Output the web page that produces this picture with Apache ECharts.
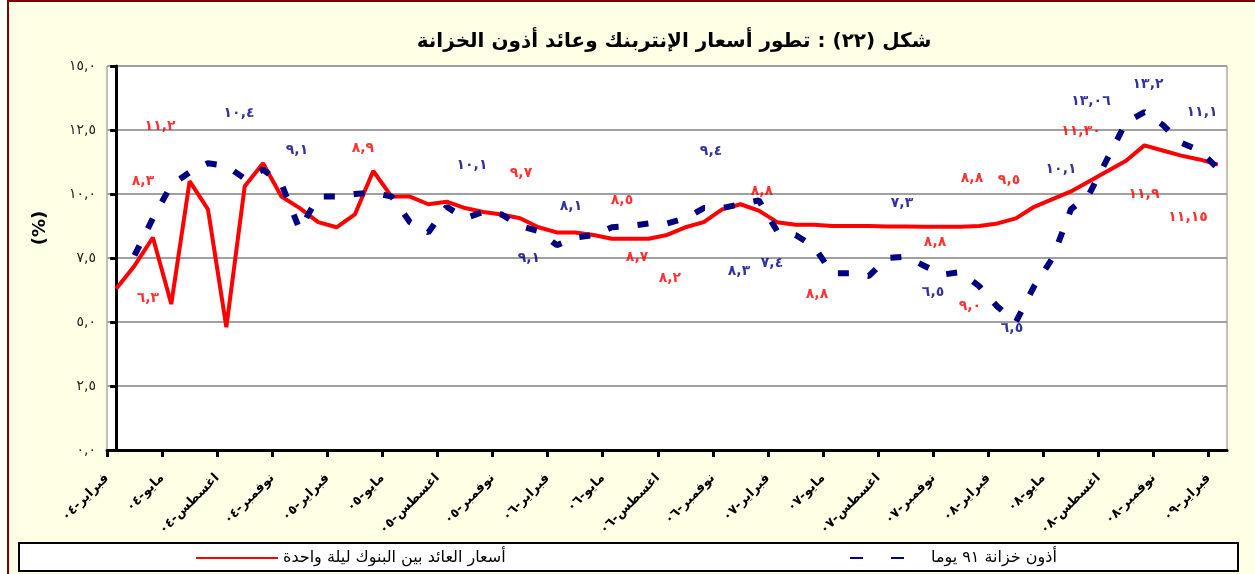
<!DOCTYPE html>
<html>
<head>
<meta charset="utf-8">
<script src="https://cdn.jsdelivr.net/npm/echarts@6/dist/echarts.min.js"></script>
<style>
  html, body { margin: 0; padding: 0; background: #ffffff; }
  #chart { width: 1255px; height: 574px; }
</style>
</head>
<body>
<div id="chart"></div>
<script>
// month names and years used for the x axis labels
const monthNames = ['يناير', 'فبراير', 'مارس', 'ابريل', 'مايو', 'يونيو', 'يوليو', 'اغسطس', 'سبتمبر', 'اكتوبر', 'نوفمبر', 'ديسمبر'];
const yearLabels = ['٠٤', '٠٥', '٠٦', '٠٧', '٠٨', '٠٩'];

// interbank overnight rate, Feb-04 .. Feb-09 (monthly)
const interbank = [
  6.3, 7.2, 8.3, 5.7, 10.5, 9.4, 4.8, 10.3, 11.2, 9.9,
  9.45, 8.9, 8.7, 9.2, 10.9, 9.9, 9.9, 9.6, 9.7, 9.45,
  9.3, 9.2, 9.05, 8.7, 8.5, 8.5, 8.4, 8.25, 8.25, 8.25,
  8.4, 8.7, 8.9, 9.4, 9.6, 9.35, 8.9, 8.8, 8.8, 8.75,
  8.75, 8.75, 8.73, 8.73, 8.72, 8.72, 8.72, 8.75, 8.85, 9.05,
  9.5, 9.8, 10.1, 10.5, 10.9, 11.3, 11.9, 11.7, 11.5, 11.35,
  11.15
];

// 91-day treasury bills yield (no value for the first month)
const tbills = [
  null, 7.6, 9.05, 10.35, 10.85, 11.2, 11.1, 10.6, 10.95, 10.4,
  8.6, 9.9, 9.9, 10.0, 10.05, 9.9, 8.9, 8.5, 9.5, 9.05,
  9.3, 9.2, 8.75, 8.55, 8.0, 8.3, 8.4, 8.7, 8.75, 8.85,
  8.85, 9.05, 9.45, 9.45, 9.6, 9.75, 8.55, 8.4, 7.95, 6.9,
  6.9, 6.8, 7.5, 7.55, 7.2, 6.85, 6.95, 6.4, 5.6, 5.0,
  6.4, 7.5, 9.4, 10.0, 11.4, 12.8, 13.2, 12.7, 12.0, 11.7,
  11.0
];

// annotation texts: [month index, value, text]
const redNotes = [
  [2.39, 12.66, '١١,٢'], [1.46, 10.51, '٨,٣'], [1.73, 5.94, '٦,٣'],
  [13.44, 11.8, '٨,٩'], [22.05, 10.82, '٩,٧'], [27.55, 9.77, '٨,٥'],
  [28.37, 7.54, '٨,٧'], [30.16, 6.72, '٨,٢'], [35.17, 10.12, '٨,٨'],
  [38.17, 6.09, '٨,٨'], [44.6, 8.13, '٨,٨'], [46.5, 5.63, '٩,٠'],
  [46.61, 10.63, '٨,٨'], [48.63, 10.55, '٩,٥'], [52.55, 12.46, '١١,٣٠'],
  [55.98, 10.0, '١١,٩'], [58.38, 9.1, '١١,١٥']
];
const navyNotes = [
  [6.69, 13.16, '١٠,٤'], [9.85, 11.72, '٩,١'], [19.38, 11.13, '١٠,١'],
  [24.77, 9.53, '٨,١'], [22.48, 7.5, '٩,١'], [32.4, 11.68, '٩,٤'],
  [33.92, 6.99, '٨,٣'], [35.72, 7.3, '٧,٤'], [42.8, 9.65, '٧,٣'],
  [44.49, 6.17, '٦,٥'], [48.79, 4.77, '٦,٥'], [51.46, 10.98, '١٠,١'],
  [53.09, 13.63, '١٣,٠٦'], [56.2, 14.3, '١٣,٢'], [59.14, 13.2, '١١,١']
];

const redName = 'أسعار العائد بين البنوك ليلة واحدة';
const navyName = 'أذون خزانة ٩١ يوما';

const categories = [];
for (let i = 0; i < interbank.length; i++) {
  const m = (1 + i) % 12;
  const y = Math.floor((1 + i) / 12);
  categories.push(monthNames[m] + '-' + yearLabels[y]);
}

const toArabic = s => String(s).replace(/[0-9]/g, d => '٠١٢٣٤٥٦٧٨٩'[d]);

const tickVals = [];
for (let i = 0; i * 3 < interbank.length; i++) tickVals.push(i * 3 - 0.5);

const FONT = 'DejaVu Sans';

const chart = echarts.init(document.getElementById('chart'));

const option = {
  animation: false,
  graphic: [
    {
      type: 'rect', z: -10,
      shape: { x: 8, y: 1, width: 1300, height: 600 },
      style: { fill: '#FFFFE6', stroke: '#800000', lineWidth: 2 }
    },
    {
      type: 'rect', z: -5,
      shape: { x: 19, y: 543, width: 1219, height: 28 },
      style: { fill: '#ffffff', stroke: '#000000', lineWidth: 2 }
    },
    {
      type: 'text', x: 674, y: 42,
      style: {
        text: 'شكل (٢٢) : تطور أسعار الإنتربنك وعائد أذون الخزانة',
        font: 'bold 20px ' + FONT, fill: '#000', align: 'center', verticalAlign: 'middle'
      }
    },
    {
      type: 'text', x: 40, y: 228, rotation: Math.PI / 2,
      style: {
        text: '(%)', font: 'bold 18px ' + FONT, fill: '#000', align: 'center', verticalAlign: 'middle'
      }
    }
  ],
  legend: [
    {
      data: [redName], left: 195, top: 550, padding: 0,
      itemWidth: 82, itemHeight: 14,
      itemStyle: { opacity: 0 },
      textStyle: { fontFamily: FONT, fontSize: 16, color: '#000' }
    },
    {
      data: [navyName], left: 849, top: 550, padding: 0,
      itemWidth: 76, itemHeight: 14,
      itemStyle: { opacity: 0 },
      lineStyle: { type: [13, 28] },
      textStyle: { fontFamily: FONT, fontSize: 16, color: '#000' }
    }
  ],
  grid: {
    left: 107, right: 28, top: 66, bottom: 124,
    show: true, backgroundColor: '#ffffff', borderColor: '#808080', borderWidth: 1
  },
  xAxis: {
    type: 'value', min: -0.5, max: interbank.length - 0.5,
    splitLine: { show: false },
    axisLine: { show: true, lineStyle: { color: '#000', width: 3 } },
    axisTick: { show: true, customValues: tickVals, length: 7, lineStyle: { color: '#000', width: 3 } },
    axisLabel: {
      customValues: tickVals, rotate: 45, margin: 26,
      fontFamily: FONT, fontSize: 13, fontWeight: 'bold', color: '#000',
      formatter: v => categories[Math.ceil(v)] || ''
    }
  },
  yAxis: {
    type: 'value', min: 0, max: 15, interval: 2.5,
    axisLine: { show: true, lineStyle: { color: '#000', width: 3 } },
    axisTick: { show: true, length: 6, lineStyle: { color: '#000', width: 3 } },
    axisLabel: {
      margin: 11, fontFamily: FONT, fontSize: 14, color: '#222',
      formatter: v => toArabic(v.toFixed(1)).replace('.', ',')
    },
    splitLine: { lineStyle: { color: '#A0A0A0', width: 2 } }
  },
  series: [
    {
      name: redName, type: 'line', z: 3,
      data: interbank.map((v, i) => [i, v]),
      symbol: 'none',
      lineStyle: { color: '#FF0000', width: 4 },
      itemStyle: { color: '#FF0000' }
    },
    {
      name: navyName, type: 'line', z: 4,
      data: tbills.map((v, i) => [i, v]).filter(d => d[1] !== null),
      symbol: 'none',
      lineStyle: { color: '#000080', width: 6, type: [11, 19], cap: 'butt' },
      itemStyle: { color: '#000080' }
    },
    {
      type: 'scatter', silent: true, z: 5,
      data: redNotes, symbolSize: 0,
      label: {
        show: true, position: 'inside', formatter: p => p.value[2],
        color: '#FF0000', fontFamily: FONT, fontSize: 14, fontWeight: 'bold'
      }
    },
    {
      type: 'scatter', silent: true, z: 5,
      data: navyNotes, symbolSize: 0,
      label: {
        show: true, position: 'inside', formatter: p => p.value[2],
        color: '#000080', fontFamily: FONT, fontSize: 14, fontWeight: 'bold'
      }
    }
  ]
};

chart.setOption(option);
</script>
</body>
</html>
